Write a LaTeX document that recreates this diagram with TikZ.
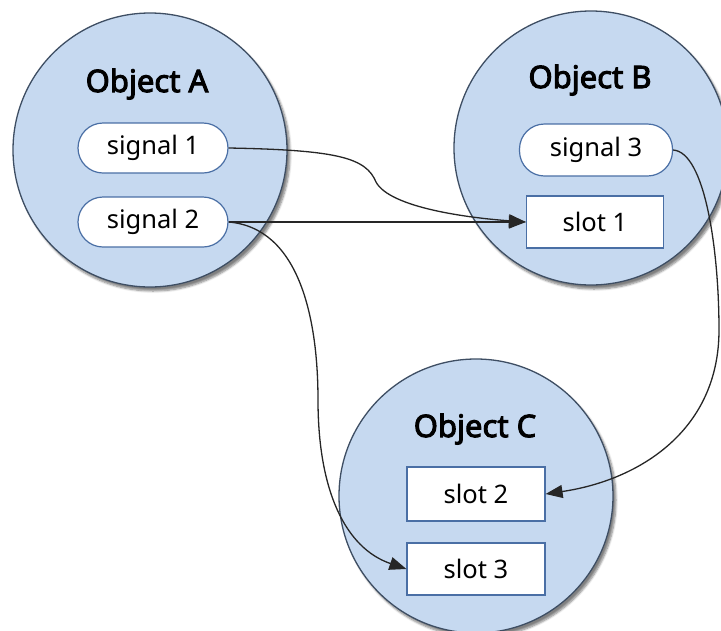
\documentclass[tikz,border=0pt]{standalone}
\usepackage{fontspec}
\setmainfont{Noto Sans}
\newfontfamily\titlefont{Noto Sans}[FakeBold=3.2]
\usetikzlibrary{arrows.meta,shadows.blur}

\definecolor{objfill}{HTML}{C6D9F0}
\definecolor{objline}{HTML}{3E4E63}
\definecolor{boxline}{HTML}{4A6FA5}

\tikzset{
  object/.style={circle, draw=objline, line width=1.3pt, fill=objfill,
    minimum size=274pt, inner sep=0pt,
    blur shadow={shadow xshift=3pt, shadow yshift=-4pt, shadow blur steps=6, shadow opacity=50}},
  title/.style={font=\titlefont\fontsize{31}{34}\selectfont, inner sep=0pt},
  signalbox/.style={draw=boxline, line width=1.2pt, fill=white,
    rounded corners=25pt, minimum width=150pt, minimum height=50pt,
    inner sep=0pt, font=\fontsize{25.5}{28}\selectfont},
  slotbox/.style={draw=boxline, line width=1.2pt, fill=white,
    minimum width=138pt, minimum height=53pt,
    inner sep=0pt, font=\fontsize{25.5}{28}\selectfont},
  link/.style={draw=black!85, line width=1.3pt,
    -{Triangle[length=17pt,width=13pt]}}
}

\begin{document}
\begin{tikzpicture}[x=1pt,y=-1pt]
  \useasboundingbox (0,0) rectangle (721,630);
  \clip (0,0) rectangle (721,630);

  % the three objects
  \node[object] (A) at (150,150) {};
  \node[object] (B) at (591,148) {};
  \node[object] (C) at (476,496) {};

  \node[title] (tA) at (147,84) {Object A};
  \node[title] (tB) at (590,80) {Object B};
  \node[title] (tC) at (475,429) {Object C};

  % signals and slots
  \node[signalbox] (s1) at (153,148) {signal 1};
  \node[signalbox] (s2) at (153,222) {signal 2};
  \node[signalbox, minimum width=153pt, minimum height=52pt] (s3) at (596,150) {signal 3};

  \node[slotbox, minimum width=137pt, minimum height=52pt] (l1) at (595,222) {slot 1};
  \node[slotbox, minimum height=54pt] (l2) at (476,494) {slot 2};
  \node[slotbox, minimum height=52pt] (l3) at (476,569) {slot 3};

  % connections
  \draw[link] (s1.east) .. controls +(110,2) and (366,158) .. (376,182)
              .. controls (390,208) and (470,218) .. (l1.west);
  \draw[link] (s2.east) -- (l1.west);
  \draw[link] (s2.east) .. controls (300,228) and (318,320) .. (318,400)
              .. controls (318,490) and (345,548) .. (l3.west);
  \draw[link] (s3.east) .. controls (705,152) and (719,250) .. (719,330)
              .. controls (719,430) and (640,480) .. (l2.east);
\end{tikzpicture}
\end{document}
